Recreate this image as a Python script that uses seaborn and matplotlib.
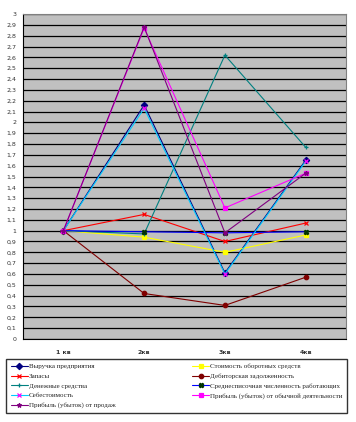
import matplotlib
matplotlib.use("Agg")
import matplotlib.pyplot as plt
import seaborn as sns
import pandas as pd
import numpy as np

# data
quarters = ['1 кв', '2кв', '3кв', '4кв']
names = [
    'Выручка предприятия',
    'Стоимость оборотных средств',
    'Запасы',
    'Дебиторская задолженность',
    'Денежные средства',
    'Среднесписочная численность работающих',
    'Себестоимость',
    'Прибыль (убыток) от обычной деятельности',
    'Прибыль (убыток) от продаж',
]
revenue = [1.0, 2.16, 0.61, 1.65]
current_assets = [1.0, 0.94, 0.80, 0.96]
stocks = [1.0, 1.15, 0.90, 1.07]
receivables = [1.0, 0.42, 0.31, 0.57]
cash = [1.0, 0.97, 2.62, 1.77]
staff = [1.0, 0.99, 0.98, 0.99]
cost = [1.0, 2.13, 0.60, 1.64]
profit_ordinary = [1.0, 2.87, 1.21, 1.53]
profit_sales = [1.0, 2.88, 0.98, 1.53]
series = [revenue, current_assets, stocks, receivables, cash, staff, cost,
          profit_ordinary, profit_sales]

# line colour, marker, marker face, marker edge
styles = [
    ('#000080', 'D', '#000080', '#000080'),
    ('#FFFF00', 's', '#FFFF00', '#FFFF00'),
    ('#FF0000', 'x', 'none', '#FF0000'),
    ('#800000', 'o', '#800000', '#800000'),
    ('#008080', '+', 'none', '#008080'),
    ('#0000FF', 'X', '#003300', '#003300'),
    ('#00CCFF', 'x', 'none', '#FF00FF'),
    ('#FF00FF', 's', '#FF00FF', '#FF00FF'),
    ('#800080', '*', '#800080', '#800080'),
]

sns.set_style("white")
plt.rcParams['font.family'] = ['DejaVu Sans']

fig = plt.figure(figsize=(3.56, 4.22), dpi=100)
ax = fig.add_axes([0.0646, 0.1967, 0.9074, 0.7701])
ax.set_facecolor('#C0C0C0')

x = np.arange(len(quarters))
handles = []
for name, vals, (c, m, fc, ec) in zip(names, series, styles):
    df = pd.DataFrame({'q': x, 'v': vals})
    sns.lineplot(data=df, x='q', y='v', ax=ax, color=c, linewidth=0.8,
                 marker=m, markersize=3.2, markerfacecolor=fc,
                 markeredgecolor=ec, markeredgewidth=0.9, label=name,
                 legend=False)
    handles.append(ax.lines[-1])

ax.set_xlim(-0.5, 3.5)
ax.set_ylim(0, 3)
yt = np.round(np.arange(0, 3.01, 0.1), 1)
ax.set_yticks(yt)
ax.set_yticklabels([f'{v:g}'.replace('.', ',') for v in yt],
                   fontsize=4.5, color='#333333')
ax.set_xticks(x)
ax.set_xticklabels(quarters, fontsize=4.5, fontweight='bold', color='#333333')
ax.set_xticks([-0.5, 0.5, 1.5, 2.5, 3.5], minor=True)
ax.tick_params(axis='x', which='major', length=0, pad=8)
ax.tick_params(axis='x', which='minor', length=3, width=0.8, color='black', direction='out')
ax.tick_params(axis='y', length=3, width=0.8, color='black', direction='out', pad=2)
ax.grid(axis='y', color='black', linewidth=0.9)
ax.set_axisbelow(True)
ax.set_xlabel('')
ax.set_ylabel('')
for side in ['top', 'right']:
    ax.spines[side].set_color('#808080')
for side in ['left', 'bottom']:
    ax.spines[side].set_color('black')

# legend: matplotlib fills columns first, reorder to read row by row
order = [0, 2, 4, 6, 8, 1, 3, 5, 7]
leg = fig.legend([handles[i] for i in order], [names[i] for i in order],
                 loc='lower left', bbox_to_anchor=(0.0084, 0.0142, 0.9747, 0.156),
                 mode='expand', ncol=2, frameon=True, fancybox=False,
                 edgecolor='black', handlelength=2.5, handletextpad=0.1,
                 labelspacing=0.55, borderpad=0.6, columnspacing=1.0,
                 prop={'family': 'Liberation Serif', 'size': 5})
leg.get_frame().set_linewidth(1.0)

fig.savefig('out.png', dpi=100)
